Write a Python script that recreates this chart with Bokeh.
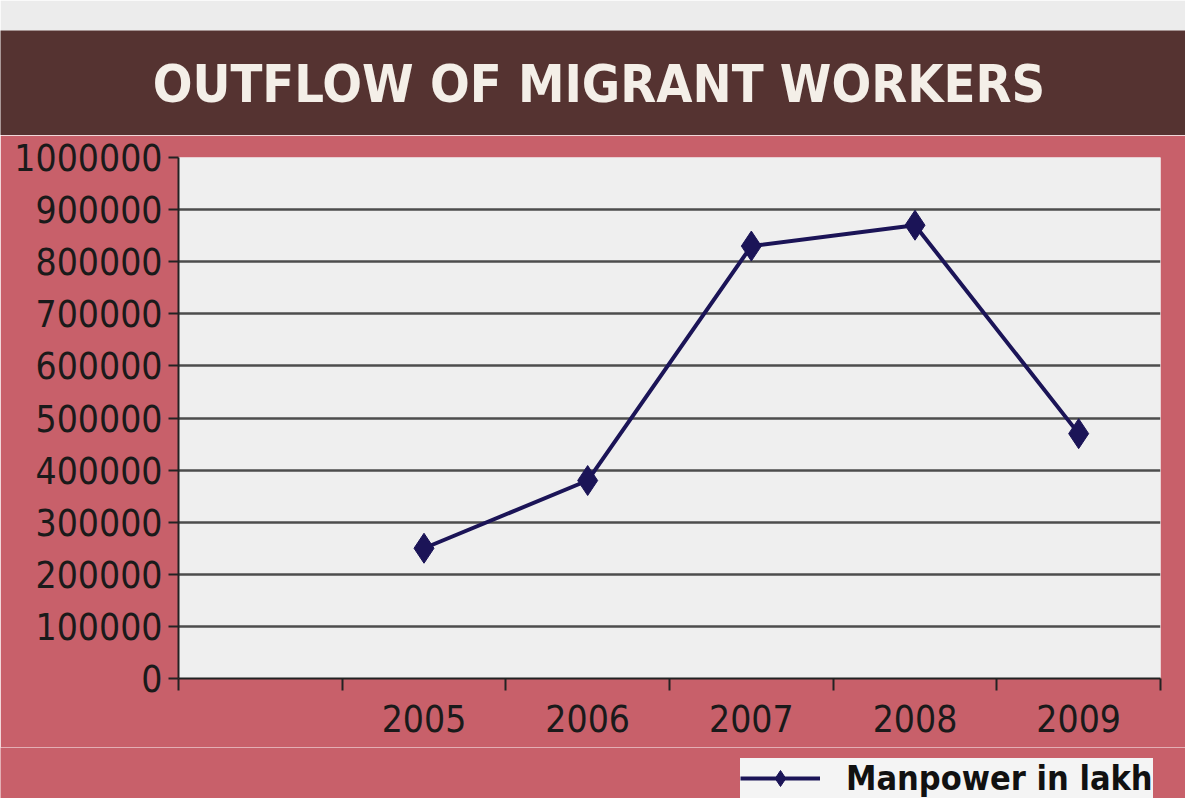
from bokeh.plotting import figure
from bokeh.models import Range1d, FixedTicker, BasicTickFormatter, Label, Legend, LegendItem
from bokeh.embed import file_html
from bokeh.resources import INLINE

# ---- data ----
title_text = "OUTFLOW OF MIGRANT WORKERS"
slots = ["", "2005", "2006", "2007", "2008", "2009"]   # first slot is empty, as in the source
years = ["2005", "2006", "2007", "2008", "2009"]
manpower = [250000, 380000, 830000, 870000, 470000]
series_name = "Manpower in lakh"
y_ticks = [0, 100000, 200000, 300000, 400000, 500000, 600000, 700000, 800000, 900000, 1000000]

FONT = "DejaVu Sans Condensed"
NAVY = "#1b1457"
RED = "#c8606a"
W = 1185

xs = [slots.index(y) for y in years]

# ---- title band ----
top = figure(width=W, height=135, x_range=Range1d(0, 1), y_range=Range1d(0, 1),
             output_backend="svg", toolbar_location=None,
             x_axis_location=None, y_axis_location=None,
             min_border_top=30, min_border_left=0, min_border_right=0, min_border_bottom=0,
             background_fill_color="#553331", border_fill_color="#ececec",
             outline_line_color=None)
top.grid.visible = False
top.add_layout(Label(x=0.505, y=0.49, text=title_text, text_align="center",
                     text_baseline="middle", text_font_size="52px",
                     text_font_style="bold", text_color="#f4efe8", text_font=FONT))

# ---- main chart ----
p = figure(width=W, height=612,
           x_range=Range1d(-0.5, len(slots) - 0.5), y_range=Range1d(0, 1000000),
           output_backend="svg", toolbar_location=None,
           min_border_left=178, min_border_right=25, min_border_top=22, min_border_bottom=69,
           background_fill_color="#efefef", border_fill_color=RED,
           outline_line_color=None)

p.xgrid.visible = False
p.ygrid.grid_line_color = "#4d4d4d"
p.ygrid.grid_line_width = 2.5

p.yaxis.ticker = FixedTicker(ticks=y_ticks)
p.yaxis.formatter = BasicTickFormatter(use_scientific=False)
p.yaxis.major_tick_out = 10
p.yaxis.major_tick_in = 0
p.yaxis.minor_tick_out = 0
p.yaxis.minor_tick_in = 0
p.yaxis.major_label_standoff = 6

p.xaxis.ticker = FixedTicker(ticks=xs, minor_ticks=[i - 0.5 for i in range(len(slots) + 1)])
p.xaxis.major_label_overrides = {i: s for i, s in enumerate(slots) if s}
p.xaxis.major_tick_out = 0
p.xaxis.major_tick_in = 0
p.xaxis.minor_tick_out = 12
p.xaxis.minor_tick_in = 0
p.xaxis.minor_tick_line_color = "#222222"
p.xaxis.minor_tick_line_width = 2
p.xaxis.major_label_standoff = 14

for ax in (p.xaxis, p.yaxis):
    ax.axis_line_color = "#222222"
    ax.axis_line_width = 2
    ax.major_tick_line_color = "#222222"
    ax.major_tick_line_width = 2
    ax.major_label_text_font = FONT
    ax.major_label_text_font_size = "37px"
    ax.major_label_text_color = "#1a1a1a"

p.line(xs, manpower, line_color=NAVY, line_width=4)
p.scatter(xs, manpower, marker="diamond", size=30, fill_color=NAVY, line_color=NAVY)

# ---- legend strip (same series, drawn out of view so only the key shows) ----
bot = figure(width=W, height=51, x_range=Range1d(-0.5, len(slots) - 0.5),
             y_range=Range1d(-3e6, -2e6),
             output_backend="svg", toolbar_location=None,
             x_axis_location=None, y_axis_location=None,
             min_border=0, background_fill_color=RED, border_fill_color=RED,
             outline_line_color=None)
bot.grid.visible = False
bln = bot.line(xs, manpower, line_color=NAVY, line_width=4)
bmk = bot.scatter(xs, manpower, marker="diamond", size=30, fill_color=NAVY, line_color=NAVY)

legend = Legend(items=[LegendItem(label=series_name, renderers=[bln, bmk])],
                location=(740, 0),
                background_fill_color="#f4f4f4", background_fill_alpha=1,
                border_line_color=None, label_text_font=FONT, label_text_font_style="bold",
                label_text_font_size="34px", label_text_color="#111111",
                glyph_width=80, glyph_height=40, padding=5, margin=0, label_standoff=26)
bot.add_layout(legend)

open("out.html", "w").write(file_html([top, p, bot], INLINE))
